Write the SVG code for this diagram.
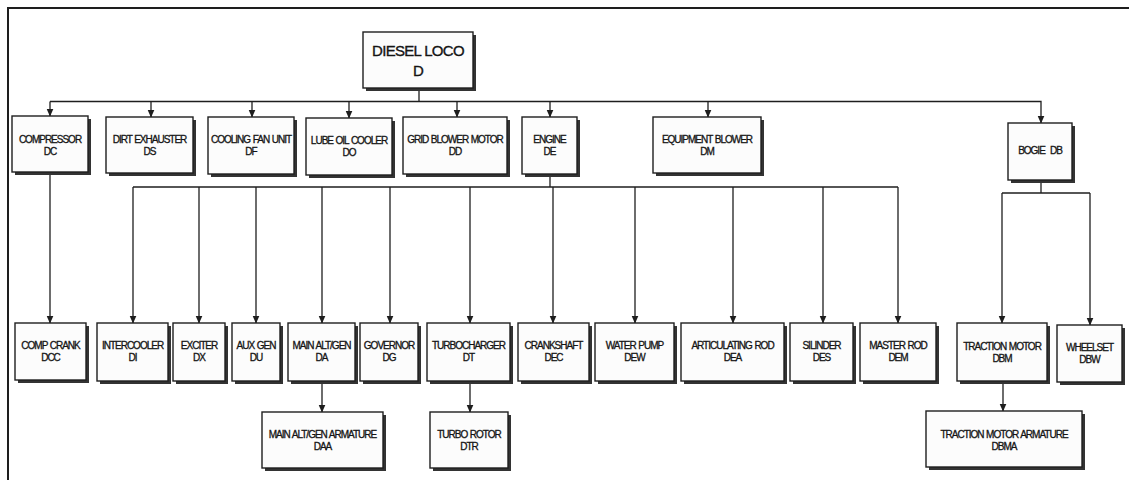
<svg xmlns="http://www.w3.org/2000/svg" width="1129" height="480" viewBox="0 0 1129 480">
  <style>
    .frame { fill: none; stroke: #1e1e1e; stroke-width: 2; }
    .shadow { fill: #333333; }
    .box { fill: #fcfcfc; stroke: #1e1e1e; stroke-width: 1.4; }
    .lbl { font-family: "Liberation Sans", Arial, sans-serif; font-size: 10px; letter-spacing: -1px; word-spacing: 0.8px; fill: #141414; stroke: #141414; stroke-width: 0.3px; text-anchor: middle; }
    .big { font-size: 15px; letter-spacing: -0.7px; word-spacing: 0; stroke-width: 0.35px; }
    .wire { fill: none; stroke: #1e1e1e; stroke-width: 1.3; }
    .arrow { marker-end: url(#arr); }
  </style>
  <defs>
    <marker id="arr" markerWidth="8" markerHeight="8" refX="7.5" refY="4" orient="auto" markerUnits="userSpaceOnUse">
      <path d="M0,0.5 L8,4 L0,7.5 z" fill="#1e1e1e"/>
    </marker>
  </defs>

  <rect width="1129" height="480" fill="#ffffff"/>
  <!-- outer frame: top and left edges visible -->
  <path class="frame" d="M8,490 V8 H1140"/>

  <!-- connectors -->
  <g id="connectors">
    <path class="wire" d="M419,88 V101.5"/>
    <path class="wire arrow" d="M50,101.5 H1041 V123"/>
    <path class="wire arrow" d="M50,101.5 V116"/>
    <path class="wire arrow" d="M151,101.5 V117"/>
    <path class="wire arrow" d="M252,101.5 V117"/>
    <path class="wire arrow" d="M349,101.5 V118"/>
    <path class="wire arrow" d="M457,101.5 V117"/>
    <path class="wire arrow" d="M550,101.5 V117"/>
    <path class="wire arrow" d="M708,101.5 V117"/>

    <!-- compressor to comp crank -->
    <path class="wire arrow" d="M50,172 V323"/>

    <!-- engine branch -->
    <path class="wire" d="M550,174 V187"/>
    <path class="wire" d="M133,187 H898"/>
    <path class="wire arrow" d="M133,187 V323"/>
    <path class="wire arrow" d="M199,187 V323"/>
    <path class="wire arrow" d="M256,187 V323"/>
    <path class="wire arrow" d="M322,187 V323"/>
    <path class="wire arrow" d="M390,187 V323"/>
    <path class="wire arrow" d="M470,187 V323"/>
    <path class="wire arrow" d="M553,187 V323"/>
    <path class="wire arrow" d="M635,187 V323"/>
    <path class="wire arrow" d="M733,187 V323"/>
    <path class="wire arrow" d="M823,187 V323"/>
    <path class="wire arrow" d="M898,187 V323"/>

    <!-- bogie branch -->
    <path class="wire" d="M1041,180 V193"/>
    <path class="wire" d="M1002,193 H1090"/>
    <path class="wire arrow" d="M1002,193 V323"/>
    <path class="wire arrow" d="M1090,193 V325"/>

    <!-- third level -->
    <path class="wire arrow" d="M322,381 V412"/>
    <path class="wire arrow" d="M470,381 V412"/>
    <path class="wire arrow" d="M1003,381 V411"/>
  </g>

  <!-- root -->
  <g id="D">
    <rect class="shadow" x="366" y="35" width="110" height="56"/>
    <rect class="box" x="363" y="32" width="110" height="56"/>
    <text class="lbl big" x="418" y="56">DIESEL LOCO</text>
    <text class="lbl big" x="418" y="75.5">D</text>
  </g>

  <!-- first level -->
  <g id="DC">
    <rect class="shadow" x="15" y="119" width="76" height="56"/>
    <rect class="box" x="12" y="116" width="76" height="56"/>
    <text class="lbl" x="50" y="142.5">COMPRESSOR</text>
    <text class="lbl" x="50" y="154.5">DC</text>
  </g>
  <g id="DS">
    <rect class="shadow" x="109" y="120" width="87" height="56"/>
    <rect class="box" x="106" y="117" width="87" height="56"/>
    <text class="lbl" x="149.5" y="142.5">DIRT EXHAUSTER</text>
    <text class="lbl" x="149.5" y="154.5">DS</text>
  </g>
  <g id="DF">
    <rect class="shadow" x="211" y="120" width="86" height="57"/>
    <rect class="box" x="208" y="117" width="86" height="57"/>
    <text class="lbl" x="251" y="142.5">COOLING FAN UNIT</text>
    <text class="lbl" x="251" y="154.5">DF</text>
  </g>
  <g id="DO">
    <rect class="shadow" x="309" y="121" width="86" height="57"/>
    <rect class="box" x="306" y="118" width="86" height="57"/>
    <text class="lbl" x="349" y="143.5">LUBE OIL COOLER</text>
    <text class="lbl" x="349" y="155.5">DO</text>
  </g>
  <g id="DD">
    <rect class="shadow" x="406" y="120" width="104" height="57"/>
    <rect class="box" x="403" y="117" width="104" height="57"/>
    <text class="lbl" x="455" y="142.5">GRID BLOWER MOTOR</text>
    <text class="lbl" x="455" y="154.5">DD</text>
  </g>
  <g id="DE">
    <rect class="shadow" x="525" y="120" width="55" height="57"/>
    <rect class="box" x="522" y="117" width="55" height="57"/>
    <text class="lbl" x="549.5" y="142.5">ENGINE</text>
    <text class="lbl" x="549.5" y="154.5">DE</text>
  </g>
  <g id="DM">
    <rect class="shadow" x="656" y="120" width="108" height="56"/>
    <rect class="box" x="653" y="117" width="108" height="56"/>
    <text class="lbl" x="707" y="142.5">EQUIPMENT BLOWER</text>
    <text class="lbl" x="707" y="154.5">DM</text>
  </g>
  <g id="DB">
    <rect class="shadow" x="1011" y="126" width="64" height="57"/>
    <rect class="box" x="1008" y="123" width="64" height="57"/>
    <text class="lbl" x="1040" y="153.5" xml:space="preserve">BOGIE  DB</text>
  </g>

  <!-- second level -->
  <g id="DCC">
    <rect class="shadow" x="18" y="326" width="71" height="57"/>
    <rect class="box" x="15" y="323" width="71" height="57"/>
    <text class="lbl" x="50.5" y="348.5">COMP CRANK</text>
    <text class="lbl" x="50.5" y="360.5">DCC</text>
  </g>
  <g id="DI">
    <rect class="shadow" x="100" y="326" width="71" height="58"/>
    <rect class="box" x="97" y="323" width="71" height="58"/>
    <text class="lbl" x="132.5" y="348.5">INTERCOOLER</text>
    <text class="lbl" x="132.5" y="360.5">DI</text>
  </g>
  <g id="DX">
    <rect class="shadow" x="176" y="326" width="52" height="58"/>
    <rect class="box" x="173" y="323" width="52" height="58"/>
    <text class="lbl" x="199" y="348.5">EXCITER</text>
    <text class="lbl" x="199" y="360.5">DX</text>
  </g>
  <g id="DU">
    <rect class="shadow" x="235" y="326" width="48" height="58"/>
    <rect class="box" x="232" y="323" width="48" height="58"/>
    <text class="lbl" x="256" y="348.5">AUX GEN</text>
    <text class="lbl" x="256" y="360.5">DU</text>
  </g>
  <g id="DA">
    <rect class="shadow" x="291" y="326" width="67" height="58"/>
    <rect class="box" x="288" y="323" width="67" height="58"/>
    <text class="lbl" x="321.5" y="348.5">MAIN ALT/GEN</text>
    <text class="lbl" x="321.5" y="360.5">DA</text>
  </g>
  <g id="DG">
    <rect class="shadow" x="363" y="326" width="58" height="58"/>
    <rect class="box" x="360" y="323" width="58" height="58"/>
    <text class="lbl" x="389" y="348.5">GOVERNOR</text>
    <text class="lbl" x="389" y="360.5">DG</text>
  </g>
  <g id="DT">
    <rect class="shadow" x="430" y="326" width="83" height="58"/>
    <rect class="box" x="427" y="323" width="83" height="58"/>
    <text class="lbl" x="468.5" y="348.5">TURBOCHARGER</text>
    <text class="lbl" x="468.5" y="360.5">DT</text>
  </g>
  <g id="DEC">
    <rect class="shadow" x="521" y="326" width="71" height="58"/>
    <rect class="box" x="518" y="323" width="71" height="58"/>
    <text class="lbl" x="553.5" y="348.5">CRANKSHAFT</text>
    <text class="lbl" x="553.5" y="360.5">DEC</text>
  </g>
  <g id="DEW">
    <rect class="shadow" x="598" y="326" width="79" height="58"/>
    <rect class="box" x="595" y="323" width="79" height="58"/>
    <text class="lbl" x="634.5" y="348.5">WATER PUMP</text>
    <text class="lbl" x="634.5" y="360.5">DEW</text>
  </g>
  <g id="DEA">
    <rect class="shadow" x="684" y="326" width="103" height="58"/>
    <rect class="box" x="681" y="323" width="103" height="58"/>
    <text class="lbl" x="732.5" y="348.5">ARTICULATING ROD</text>
    <text class="lbl" x="732.5" y="360.5">DEA</text>
  </g>
  <g id="DES">
    <rect class="shadow" x="793" y="326" width="63" height="58"/>
    <rect class="box" x="790" y="323" width="63" height="58"/>
    <text class="lbl" x="821.5" y="348.5">SILINDER</text>
    <text class="lbl" x="821.5" y="360.5">DES</text>
  </g>
  <g id="DEM">
    <rect class="shadow" x="863" y="326" width="76" height="58"/>
    <rect class="box" x="860" y="323" width="76" height="58"/>
    <text class="lbl" x="898" y="348.5">MASTER ROD</text>
    <text class="lbl" x="898" y="360.5">DEM</text>
  </g>
  <g id="DBM">
    <rect class="shadow" x="960" y="326" width="90" height="58"/>
    <rect class="box" x="957" y="323" width="90" height="58"/>
    <text class="lbl" x="1002" y="349.5">TRACTION MOTOR</text>
    <text class="lbl" x="1002" y="361.5">DBM</text>
  </g>
  <g id="DBW">
    <rect class="shadow" x="1060" y="328" width="65" height="57"/>
    <rect class="box" x="1057" y="325" width="65" height="57"/>
    <text class="lbl" x="1089.5" y="350.5">WHEELSET</text>
    <text class="lbl" x="1089.5" y="362.5">DBW</text>
  </g>

  <!-- third level -->
  <g id="DAA">
    <rect class="shadow" x="265" y="415" width="121" height="56"/>
    <rect class="box" x="262" y="412" width="121" height="56"/>
    <text class="lbl" x="322.5" y="437.5">MAIN ALT/GEN ARMATURE</text>
    <text class="lbl" x="322.5" y="450">DAA</text>
  </g>
  <g id="DTR">
    <rect class="shadow" x="433" y="415" width="78" height="56"/>
    <rect class="box" x="430" y="412" width="78" height="56"/>
    <text class="lbl" x="469" y="437.5">TURBO ROTOR</text>
    <text class="lbl" x="469" y="450">DTR</text>
  </g>
  <g id="DBMA">
    <rect class="shadow" x="929" y="414" width="156" height="56"/>
    <rect class="box" x="926" y="411" width="156" height="56"/>
    <text class="lbl" x="1004" y="437.5">TRACTION MOTOR ARMATURE</text>
    <text class="lbl" x="1004" y="449.5">DBMA</text>
  </g>
</svg>
